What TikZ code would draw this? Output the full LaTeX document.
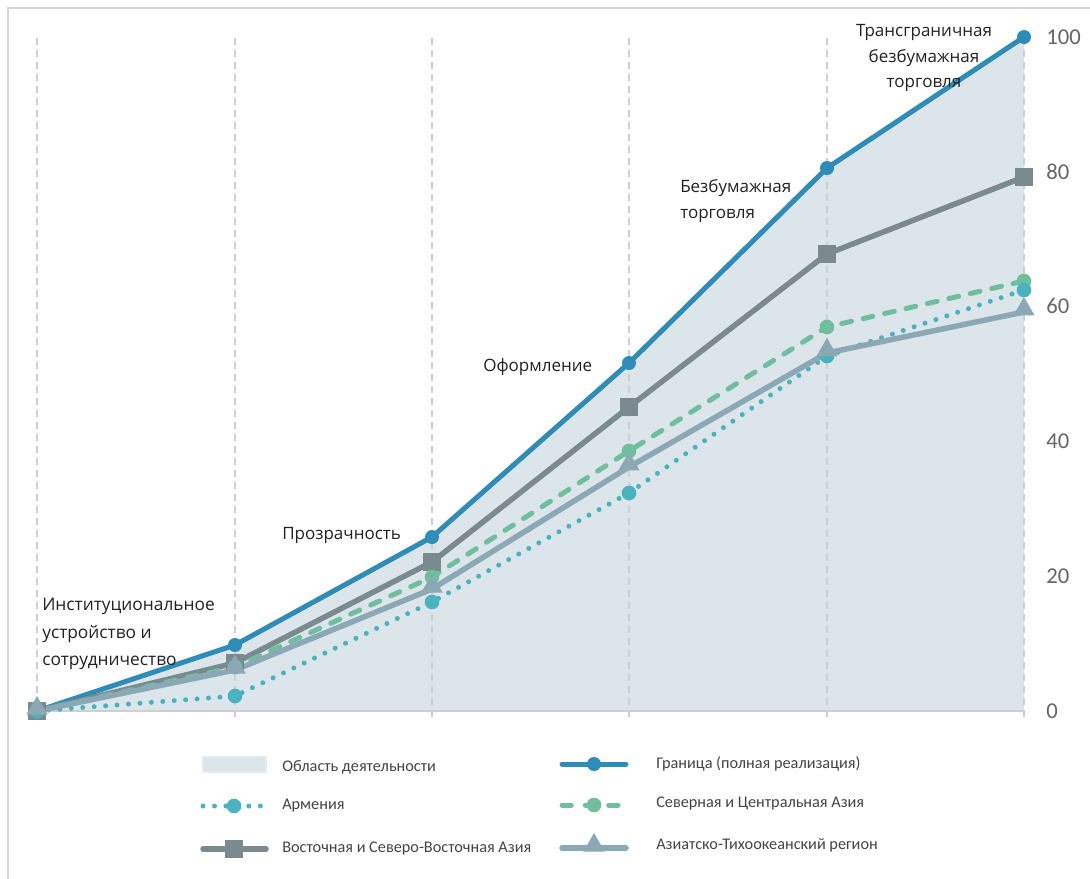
\documentclass[tikz,border=0pt]{standalone}
\usepackage{fontspec}
\setmainfont{Open Sans}
\newfontfamily\legendfont{Carlito}
\usetikzlibrary{shapes.geometric}
\definecolor{cBlue}{HTML}{2E8DB8}
\definecolor{cEast}{HTML}{7A8B90}
\definecolor{cNorth}{HTML}{6FBF9F}
\definecolor{cArm}{HTML}{4AB3C0}
\definecolor{cAP}{HTML}{8AA9B4}
\definecolor{cFill}{HTML}{DCE5EA}
\definecolor{cGrid}{HTML}{CFCFCF}
\definecolor{cFrame}{HTML}{D4D4D4}
\definecolor{cText}{HTML}{222222}
\definecolor{cLeg}{HTML}{444444}
\definecolor{cAxis}{HTML}{666666}
\tikzset{
  px/.style={line width=#1*0.75pt},
  gridline/.style={cGrid, px=2, dash pattern=on 5.25pt off 3.75pt},
  lBlue/.style={cBlue, px=5, line join=round, line cap=round},
  lEast/.style={cEast, px=5.5, line join=round, line cap=round},
  lNorth/.style={cNorth, px=5, line cap=round, dash pattern=on 7.5pt off 9pt},
  lArm/.style={cArm, px=5, line cap=round, dash pattern=on 0pt off 8.6pt},
  lAP/.style={cAP, px=5.5, line join=round, line cap=round},
  mBlue/.style={circle, fill=cBlue, inner sep=0, minimum size=10.5pt},
  mNorth/.style={circle, fill=cNorth, inner sep=0, minimum size=11pt},
  mArm/.style={circle, fill=cArm, inner sep=0, minimum size=11pt},
  mEast/.style={rectangle, fill=cEast, inner sep=0, minimum size=13pt},
  mAP/.style={isosceles triangle, isosceles triangle apex angle=60, shape border rotate=90, fill=cAP, inner sep=0, minimum height=13pt, minimum width=16pt},
  anno/.style={cText, inner sep=0, font=\fontsize{12.75}{19.25}\selectfont},
  legtext/.style={cLeg, inner sep=0, anchor=west, font=\legendfont\fontsize{12.2}{14}\selectfont},
  axistext/.style={cAxis, inner sep=0, anchor=west, font=\legendfont\fontsize{17}{19}\selectfont},
}
\begin{document}
\begin{tikzpicture}[x=0.75pt,y=-0.75pt]
\useasboundingbox (0,0) rectangle (1090,879);
\fill[white] (0,0) rectangle (1090,879);
% frame
\draw[cFrame, px=2.5] (8,879) -- (8,8) -- (1090,8);
% data coordinates
\coordinate (b0) at (37,711);  \coordinate (b1) at (235,645); \coordinate (b2) at (432,537);
\coordinate (b3) at (629,363); \coordinate (b4) at (827,168); \coordinate (b5) at (1024,37);
\coordinate (e0) at (37,711);  \coordinate (e1) at (235,663); \coordinate (e2) at (432,562);
\coordinate (e3) at (629,407); \coordinate (e4) at (827,254); \coordinate (e5) at (1024,177);
\coordinate (n0) at (37,711);  \coordinate (n1) at (235,667); \coordinate (n2) at (432,577);
\coordinate (n3) at (629,451); \coordinate (n4) at (827,327); \coordinate (n5) at (1024,281);
\coordinate (a0) at (37,711);  \coordinate (a1) at (235,696); \coordinate (a2) at (432,602);
\coordinate (a3) at (629,493); \coordinate (a4) at (827,356); \coordinate (a5) at (1024,290);
\coordinate (p0) at (37,711);  \coordinate (p1) at (235,670); \coordinate (p2) at (432,589);
\coordinate (p3) at (629,467); \coordinate (p4) at (827,353); \coordinate (p5) at (1024,312);
\coordinate (base5) at (1024,711);
% area
\fill[cFill] (b0) -- (b1) -- (b2) -- (b3) -- (b4) -- (b5) -- (base5) -- cycle;
% grid
\foreach \gx in {37,235,432,629,827,1024} {
  \draw[gridline] (\gx,38) -- (\gx,718);
}
\draw[cGrid, px=2] (b0) -- (base5);
% axis labels
\node[axistext] (y0)   at (1046,711) {0};
\node[axistext] (y20)  at (1046,576) {20};
\node[axistext] (y40)  at (1046,441) {40};
\node[axistext] (y60)  at (1046,306) {60};
\node[axistext] (y80)  at (1046,172) {80};
\node[axistext] (y100) at (1046,37)  {100};
% series lines
\draw[lBlue] (b0) -- (b1) -- (b2) -- (b3) -- (b4) -- (b5);
\draw[lEast] (e0) -- (e1) -- (e2) -- (e3) -- (e4) -- (e5);
\draw[lNorth] (n0) -- (n1) -- (n2) -- (n3) -- (n4) -- (n5);
\draw[lArm] (a0) -- (a1) -- (a2) -- (a3) -- (a4) -- (a5);
\draw[lAP] (p0) -- (p1) -- (p2) -- (p3) -- (p4) -- (p5);
% markers
\foreach \i in {0,...,5} {
  \node[mBlue] (mb\i) at (b\i) {};
}
\foreach \i in {0,...,5} {
  \node[mEast] (me\i) at (e\i) {};
}
\foreach \i in {0,...,5} {
  \node[mNorth] (mn\i) at (n\i) {};
}
\foreach \i in {0,...,5} {
  \node[mArm] (ma\i) at (a\i) {};
}
\foreach \i in {0,...,5} {
  \node[mAP] (mp\i) at ([yshift=2pt]p\i) {};
}
% annotations
\node[anno, anchor=west, align=left, font=\fontsize{13}{20.5}\selectfont] (t1) at (42,634) {Институциональное\\устройство и\\сотрудничество};
\node[anno, anchor=west] (t2) at (282,535) {Прозрачность};
\node[anno, anchor=west] (t3) at (483,367) {Оформление};
\node[anno, anchor=west, align=left] (t4) at (680,201) {Безбумажная\\торговля};
\node[anno, align=center] (t5) at (924,58) {Трансграничная\\безбумажная\\торговля};
% legend
\node[draw=cFill!70!white, fill=cFill, px=1.5, minimum width=47pt, minimum height=11pt, inner sep=0] (lg0) at (234.5,764.5) {};
\node[legtext] (lt0) at (282,767) {Область деятельности};
\coordinate (la1) at (203,806); \coordinate (lb1) at (266,806);
\draw[lArm] (la1) -- (lb1);
\node[mArm] (lm1) at (234,806) {};
\node[legtext] (lt1) at (282,806) {Армения};
\coordinate (la2) at (203,849); \coordinate (lb2) at (266,849);
\draw[lEast] (la2) -- (lb2);
\node[mEast] (lm2) at (234,849) {};
\node[legtext] (lt2) at (282,849) {Восточная и Северо-Восточная Азия};
\coordinate (la3) at (562,764); \coordinate (lb3) at (626,764);
\draw[lBlue] (la3) -- (lb3);
\node[mBlue] (lm3) at (594,764) {};
\node[legtext] (lt3) at (656,764) {Граница (полная реализация)};
\coordinate (la4) at (562,805); \coordinate (lb4) at (626,805);
\draw[lNorth, dash pattern=on 7pt off 10.5pt] (la4) -- (lb4);
\node[mNorth] (lm4) at (594,805) {};
\node[legtext] (lt4) at (656,804) {Северная и Центральная Азия};
\coordinate (la5) at (562,848); \coordinate (lb5) at (626,848);
\draw[lAP] (la5) -- (lb5);
\node[mAP] (lm5) at ([yshift=2pt]594,848) {};
\node[legtext] (lt5) at (656,845) {Азиатско-Тихоокеанский регион};
\end{tikzpicture}
\end{document}
